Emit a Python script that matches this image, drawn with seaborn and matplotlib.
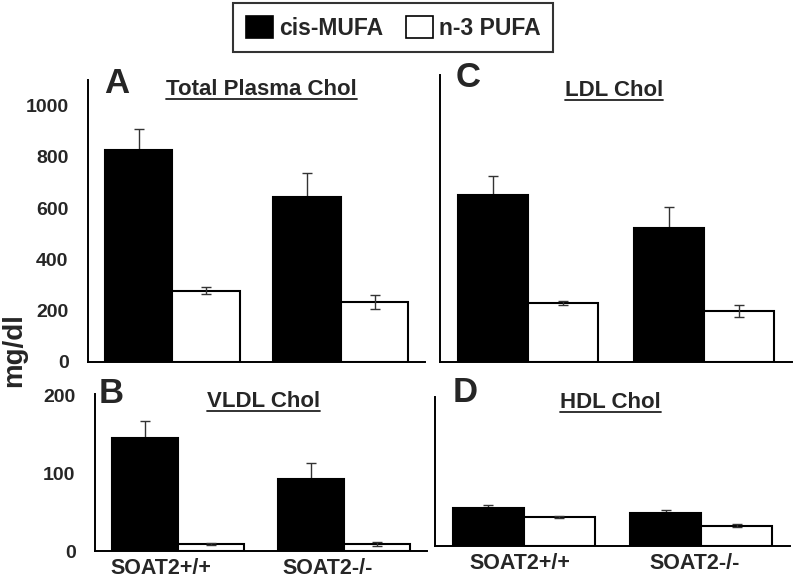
import matplotlib

matplotlib.use("Agg")
import matplotlib.pyplot as plt
import pandas as pd
import seaborn as sns
from matplotlib.lines import Line2D
from matplotlib.patches import Patch


GENOTYPES = ["SOAT2+/+", "SOAT2-/-"]
DIETS = ["cis-MUFA", "n-3 PUFA"]

TOTAL_MUFA = [825, 645]
TOTAL_MUFA_ERR = [85, 92]
TOTAL_PUFA = [278, 235]
TOTAL_PUFA_ERR = [14, 27]

LDL_MUFA = [640, 515]
LDL_MUFA_ERR = [72, 77]
LDL_PUFA = [226, 195]
LDL_PUFA_ERR = [8, 24]

VLDL_MUFA = [145, 92]
VLDL_MUFA_ERR = [22, 21]
VLDL_PUFA = [9, 9]
VLDL_PUFA_ERR = [1, 3]

HDL_MUFA = [50, 44]
HDL_MUFA_ERR = [5, 4]
HDL_PUFA = [39, 27]
HDL_PUFA_ERR = [1.5, 2]

FONT = ["Liberation Sans", "DejaVu Sans"]


def draw_panel(ax, mufa, mufa_err, pufa, pufa_err, ylim, yticks, letter, title,
               letter_xy, title_xy, show_ylabels, show_xlabels, label_pos=(0, 1)):
    df = pd.DataFrame(
        {
            "genotype": GENOTYPES * 2,
            "diet": [DIETS[0]] * 2 + [DIETS[1]] * 2,
            "value": mufa + pufa,
        }
    )
    sns.barplot(data=df, x="genotype", y="value", hue="diet", hue_order=DIETS,
                palette=["black", "white"], saturation=1, edgecolor="black",
                linewidth=1.5, errorbar=None, legend=False, width=0.8, ax=ax)

    # whiskers behind the black bars (only the top half shows), in front of the white ones
    for container, errs, z in zip(ax.containers, [mufa_err, pufa_err], [0.5, 3]):
        for bar, e in zip(container, errs):
            ax.errorbar(bar.get_x() + bar.get_width() / 2, bar.get_height(), yerr=e,
                        color="#333333", lw=1, capsize=3.5, capthick=1, zorder=z)

    ax.set_xlim(-0.5, 1.5)
    ax.set_ylim(*ylim)
    ax.set_yticks(yticks)
    ax.set_xlabel("")
    ax.set_ylabel("")
    for side in ["top", "right"]:
        ax.spines[side].set_visible(False)
    for side in ["left", "bottom"]:
        ax.spines[side].set_linewidth(1.4)
        ax.spines[side].set_color("black")

    ax.set_xticks(list(label_pos))
    if show_xlabels:
        ax.set_xticklabels(GENOTYPES, fontsize=15.5, fontweight="bold", family=FONT)
    else:
        ax.set_xticklabels([])
    ax.set_xticks([-0.5, 0.5, 1.5], minor=True)
    ax.tick_params(axis="x", which="major", length=0, pad=5)
    ax.tick_params(axis="x", which="minor", length=5, width=1.2, direction="out", color="black")
    ax.tick_params(axis="y", length=6, width=1.2, direction="out", color="black", pad=8,
                   labelleft=show_ylabels)
    if show_ylabels:
        for lbl in ax.get_yticklabels():
            lbl.set_fontsize(14)
            lbl.set_fontweight("bold")
            lbl.set_family(FONT)

    ax.text(letter_xy[0], letter_xy[1], letter, transform=ax.transAxes, ha="left",
            va="center", fontsize=25, fontweight="bold", family=FONT)
    t = ax.text(title_xy[0], title_xy[1], title, transform=ax.transAxes, ha="center",
                va="center", fontsize=16, fontweight="bold", family=FONT)
    return t


def main() -> None:
    sns.set_theme(style="white")
    plt.rcParams["font.family"] = FONT

    fig = plt.figure(figsize=(7.96, 5.8), dpi=100)
    ax_a = fig.add_axes([0.1106, 0.3759, 0.4234, 0.4862])
    ax_c = fig.add_axes([0.5528, 0.3759, 0.4422, 0.4950])
    ax_b = fig.add_axes([0.1193, 0.0500, 0.4171, 0.2707])
    ax_d = fig.add_axes([0.5465, 0.0591, 0.4460, 0.2570])

    titles = []
    titles.append((ax_a, draw_panel(ax_a, TOTAL_MUFA, TOTAL_MUFA_ERR, TOTAL_PUFA, TOTAL_PUFA_ERR,
                                    (0, 1100), [0, 200, 400, 600, 800, 1000], "A",
                                    "Total Plasma Chol", (0.047, 0.986), (0.515, 0.966),
                                    True, False)))
    titles.append((ax_c, draw_panel(ax_c, LDL_MUFA, LDL_MUFA_ERR, LDL_PUFA, LDL_PUFA_ERR,
                                    (0, 1100), [0, 200, 400, 600, 800, 1000], "C",
                                    "LDL Chol", (0.043, 0.99), (0.494, 0.945),
                                    False, False)))
    titles.append((ax_b, draw_panel(ax_b, VLDL_MUFA, VLDL_MUFA_ERR, VLDL_PUFA, VLDL_PUFA_ERR,
                                    (0, 202), [0, 100, 200], "B",
                                    "VLDL Chol", (0.01, 1.0), (0.507, 0.95),
                                    True, True, label_pos=(-0.1, 0.9))))
    titles.append((ax_d, draw_panel(ax_d, HDL_MUFA, HDL_MUFA_ERR, HDL_PUFA, HDL_PUFA_ERR,
                                    (0, 200), [0, 100, 200], "D",
                                    "HDL Chol", (0.05, 1.025), (0.494, 0.958),
                                    False, True, label_pos=(-0.02, 0.96))))

    fig.text(0.018, 0.397, "mg/dl", rotation=90, ha="center", va="center",
             fontsize=20, fontweight="bold", family=FONT)

    handles = [
        Patch(facecolor="black", edgecolor="black", linewidth=1.2),
        Patch(facecolor="white", edgecolor="black", linewidth=1.2),
    ]
    leg = fig.legend(handles, DIETS, loc="center", bbox_to_anchor=(0.494, 0.952), ncol=2,
                     frameon=True, fancybox=False, edgecolor="black",
                     prop={"family": FONT, "weight": "bold", "size": 16.5},
                     handlelength=1.2, handleheight=1.1, handletextpad=0.25,
                     columnspacing=1.0, borderpad=0.55)
    leg.get_frame().set_linewidth(1.5)

    fig.canvas.draw()
    renderer = fig.canvas.get_renderer()
    for ax, t in titles:
        bb = t.get_window_extent(renderer).transformed(ax.transAxes.inverted())
        y = bb.y0 + 1.5 / (ax.bbox.height)
        ax.add_line(Line2D([bb.x0, bb.x1], [y, y], transform=ax.transAxes, color="#222222",
                           lw=1.3, clip_on=False))

    fig.savefig("out.png", dpi=100)
    plt.close(fig)


if __name__ == "__main__":
    main()
